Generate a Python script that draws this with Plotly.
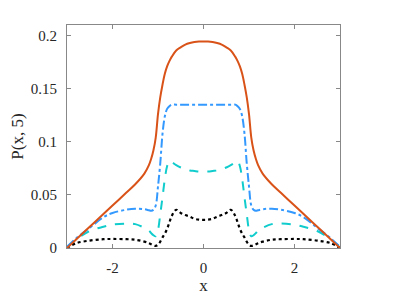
import plotly.graph_objects as go

x = [-3.0, -2.8, -2.5, -2.2, -2.0, -1.7, -1.5, -1.3, -1.2, -1.15, -1.1, -1.05, -1.0, -0.95, -0.9, -0.85,
     -0.8, -0.75, -0.7, -0.6, -0.5, -0.4, -0.3, -0.2, -0.1, 0.0,
     0.1, 0.2, 0.3, 0.4, 0.5, 0.6, 0.7, 0.75, 0.8, 0.85, 0.9, 0.95, 1.0, 1.05, 1.1, 1.15, 1.2,
     1.3, 1.5, 1.7, 2.0, 2.2, 2.5, 2.8, 3.0]

# t = 5 profiles
p_solid = [0.0, 0.008, 0.02, 0.032, 0.04, 0.052, 0.06, 0.07, 0.078, 0.084, 0.092, 0.104, 0.126, 0.142, 0.154, 0.164,
           0.171, 0.176, 0.18, 0.186, 0.189, 0.1915, 0.193, 0.194, 0.1945, 0.1945,
           0.1945, 0.194, 0.193, 0.1915, 0.189, 0.186, 0.18, 0.176, 0.171, 0.164, 0.154, 0.142, 0.126, 0.104, 0.092, 0.084, 0.078,
           0.07, 0.06, 0.052, 0.04, 0.032, 0.02, 0.008, 0.0]
p_dashdot = [0.001, 0.009, 0.019, 0.029, 0.033, 0.036, 0.037, 0.0365, 0.0355, 0.035, 0.036, 0.040, 0.058, 0.08, 0.108, 0.124,
             0.131, 0.1335, 0.135, 0.135, 0.135, 0.135, 0.135, 0.135, 0.135, 0.135,
             0.135, 0.135, 0.135, 0.135, 0.135, 0.135, 0.135, 0.1335, 0.131, 0.124, 0.108, 0.08, 0.058, 0.040, 0.036, 0.035, 0.0355,
             0.0365, 0.037, 0.036, 0.033, 0.029, 0.019, 0.009, 0.001]
p_dash = [0.001, 0.008, 0.016, 0.020, 0.022, 0.023, 0.0225, 0.019, 0.0165, 0.014, 0.012, 0.011, 0.017, 0.032, 0.048, 0.065,
          0.077, 0.082, 0.081, 0.078, 0.0758, 0.0742, 0.073, 0.0725, 0.072, 0.072,
          0.072, 0.0725, 0.073, 0.0742, 0.0758, 0.078, 0.081, 0.082, 0.077, 0.065, 0.048, 0.032, 0.017, 0.011, 0.012, 0.014, 0.0165,
          0.019, 0.0225, 0.023, 0.022, 0.020, 0.016, 0.008, 0.001]
p_dot = [0.0, 0.0045, 0.007, 0.0083, 0.0085, 0.0083, 0.0078, 0.006, 0.0045, 0.0035, 0.0025, 0.002, 0.003, 0.006, 0.01, 0.0135,
         0.018, 0.024, 0.030, 0.036, 0.033, 0.031, 0.0295, 0.0275, 0.0267, 0.0265,
         0.0267, 0.0275, 0.0295, 0.031, 0.033, 0.036, 0.030, 0.024, 0.018, 0.0135, 0.01, 0.006, 0.003, 0.002, 0.0025, 0.0035, 0.0045,
         0.006, 0.0078, 0.0083, 0.0085, 0.0083, 0.007, 0.0045, 0.0]

fig = go.Figure()
fig.add_trace(go.Scatter(x=x, y=p_dot, mode="lines", line=dict(color="black", width=2.2, dash="dot", shape="spline")))
fig.add_trace(go.Scatter(x=x, y=p_dash, mode="lines", line=dict(color="#11CCCC", width=2, dash="dash", shape="spline")))
fig.add_trace(go.Scatter(x=x, y=p_dashdot, mode="lines", line=dict(color="#3399FF", width=2, dash="dashdot", shape="spline")))
fig.add_trace(go.Scatter(x=x, y=p_solid, mode="lines", line=dict(color="#D95319", width=2, shape="spline")))

font = dict(family="Liberation Serif", size=15, color="#262626")
axis_style = dict(showline=True, linecolor="#888", linewidth=1, mirror="ticks", ticks="inside",
                  ticklen=4, tickcolor="#888", showgrid=False, zeroline=False, automargin=False,
                  tickfont=font, ticklabelstandoff=6)
fig.update_xaxes(range=[-3, 3], tickvals=[-2, 0, 2], ticktext=["-2", "0", "2"],
                 title=dict(text="x", font=dict(family="Liberation Serif", size=17, color="#262626"), standoff=4),
                 **axis_style)
fig.update_yaxes(range=[0, 0.21], tickvals=[0, 0.05, 0.1, 0.15, 0.2],
                 ticktext=["0", "0.05", "0.1", "0.15", "0.2"],
                 title=dict(text="P(x, 5)", font=dict(family="Liberation Serif", size=17, color="#262626"), standoff=6),
                 **axis_style)
# page body adds an 8px offset, so margins are shifted to keep the plot box in place
fig.update_layout(width=407, height=296, showlegend=False, plot_bgcolor="white", paper_bgcolor="white",
                  margin=dict(l=59, r=75, t=17, b=56))
fig.write_html("out.html")
